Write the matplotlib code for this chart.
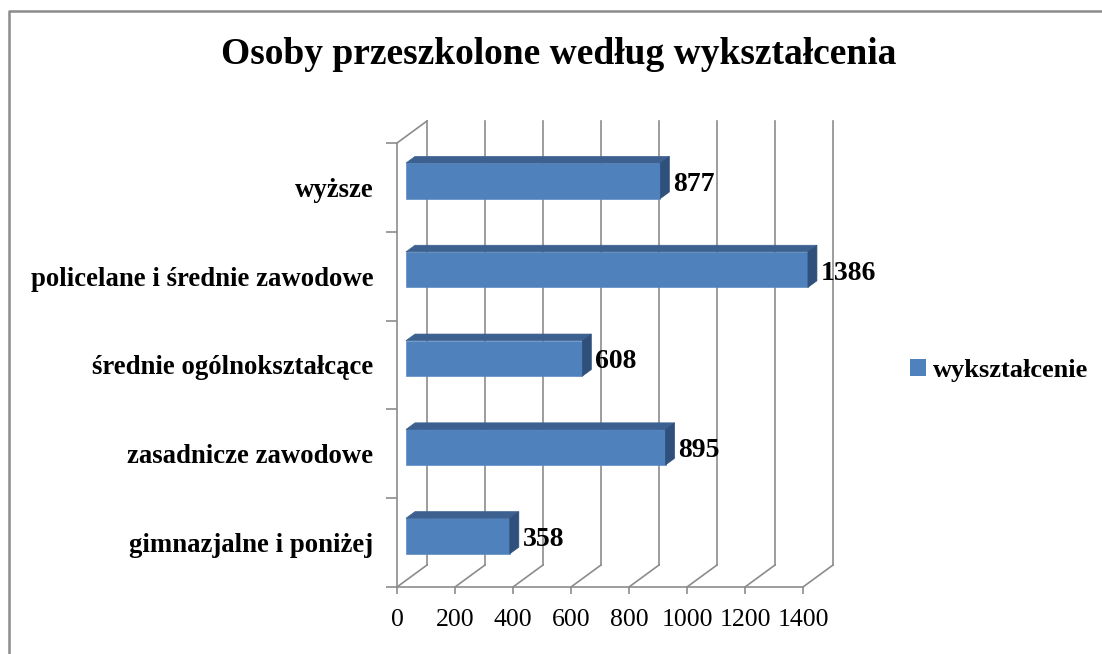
import matplotlib
matplotlib.use('Agg')
import matplotlib.pyplot as plt
from matplotlib.patches import Polygon, Patch
from matplotlib.lines import Line2D

plt.rcParams['font.family'] = ['Liberation Serif', 'DejaVu Serif']

# dane
kategorie = ['gimnazjalne i poniżej', 'zasadnicze zawodowe', 'średnie ogólnokształcące',
             'policelane i średnie zawodowe', 'wyższe']
wartosci = [358, 895, 608, 1386, 877]
seria = 'wykształcenie'
tytul = 'Osoby przeszkolone według wykształcenia'
xticki = [0, 200, 400, 600, 800, 1000, 1200, 1400]

kolor_przod = '#4F81BD'
kolor_gora = '#3C6190'
kolor_bok = '#30507C'
kolor_siatki = '#8C8C8C'

fig = plt.figure(figsize=(11.02, 6.54), dpi=100)
# przednia płaszczyzna wykresu
ax = fig.add_axes([397 / 1102, 1 - 587 / 654, 406 / 1102, 444 / 654])
ax.set_xlim(0, 1400)
ax.set_ylim(-0.5, len(kategorie) - 0.5)

# przesunięcie "głębi" (efekt 3D) w jednostkach danych
DX = 30 / 406 * 1400
DY = 22 / 444 * len(kategorie)
ymin, ymax = -0.5, len(kategorie) - 0.5

# tylna ściana i podłoga
for x in xticki:
    ax.plot([x + DX, x + DX], [ymin + DY, ymax + DY], color=kolor_siatki, lw=1.2,
            clip_on=False, zorder=1)
    ax.plot([x, x + DX], [ymin, ymin + DY], color=kolor_siatki, lw=1.2,
            clip_on=False, zorder=1)
ax.plot([0, DX], [ymax, ymax + DY], color=kolor_siatki, lw=1.2, clip_on=False, zorder=1)

# słupki 3D
d0, d1 = 0.3, 0.6
h = 0.2
for i, v in enumerate(wartosci):
    x0, y0 = d0 * DX, d0 * DY
    x1, y1 = d1 * DX, d1 * DY
    przod = Polygon([(x0, i - h + y0), (v + x0, i - h + y0), (v + x0, i + h + y0), (x0, i + h + y0)],
                    closed=True, facecolor=kolor_przod, edgecolor='#5C8CC6', lw=0.5,
                    clip_on=False, zorder=3)
    gora = Polygon([(x0, i + h + y0), (v + x0, i + h + y0), (v + x1, i + h + y1), (x1, i + h + y1)],
                   closed=True, facecolor=kolor_gora, edgecolor=kolor_gora, lw=0.5,
                   clip_on=False, zorder=3)
    bok = Polygon([(v + x0, i - h + y0), (v + x1, i - h + y1), (v + x1, i + h + y1), (v + x0, i + h + y0)],
                  closed=True, facecolor=kolor_bok, edgecolor=kolor_bok, lw=0.5,
                  clip_on=False, zorder=3)
    ax.add_patch(przod)
    ax.add_patch(gora)
    ax.add_patch(bok)
    ax.text(v + x1 + 14, i + y0 - 0.04, str(v), ha='left', va='center', fontsize=20,
            fontweight='bold', zorder=4)

# osie
for s in ['top', 'right']:
    ax.spines[s].set_visible(False)
for s in ['left', 'bottom']:
    ax.spines[s].set_color(kolor_siatki)
    ax.spines[s].set_linewidth(1.2)
ax.set_xticks(xticki)
ax.set_xticklabels([str(t) for t in xticki], fontsize=18.5)
ax.tick_params(axis='x', direction='out', length=5, width=1.2, color=kolor_siatki, pad=11)
ax.set_yticks([k - 0.5 for k in range(len(kategorie) + 1)])
ax.set_yticklabels([])
ax.tick_params(axis='y', which='major', direction='out', length=8, width=1.2, color=kolor_siatki)
ax.set_yticks(range(len(kategorie)), minor=True)
ax.set_yticklabels(kategorie, minor=True, fontsize=19.3, fontweight='bold')
ax.tick_params(axis='y', which='minor', length=0, pad=17)
ax.patch.set_visible(False)

# tytuł
fig.text(559 / 1102, 1 - 55 / 654, tytul, ha='center', va='center', fontsize=27,
         fontweight='bold')

# legenda
fig.legend(handles=[Patch(facecolor=kolor_przod, edgecolor='none', label=seria)],
           loc='center left', bbox_to_anchor=(897 / 1102, 1 - 370 / 654), frameon=False,
           handlelength=0.6, handleheight=0.6, handletextpad=0.25, borderpad=0,
           prop={'size': 19, 'weight': 'bold'})

# ramka obszaru wykresu
fig.add_artist(Line2D([9 / 1102, 9 / 1102, 1.0], [0.0, 1 - 11 / 654, 1 - 11 / 654],
                      transform=fig.transFigure, color='#8C8C8C', lw=1.8))

fig.savefig('out.png', dpi=100)
